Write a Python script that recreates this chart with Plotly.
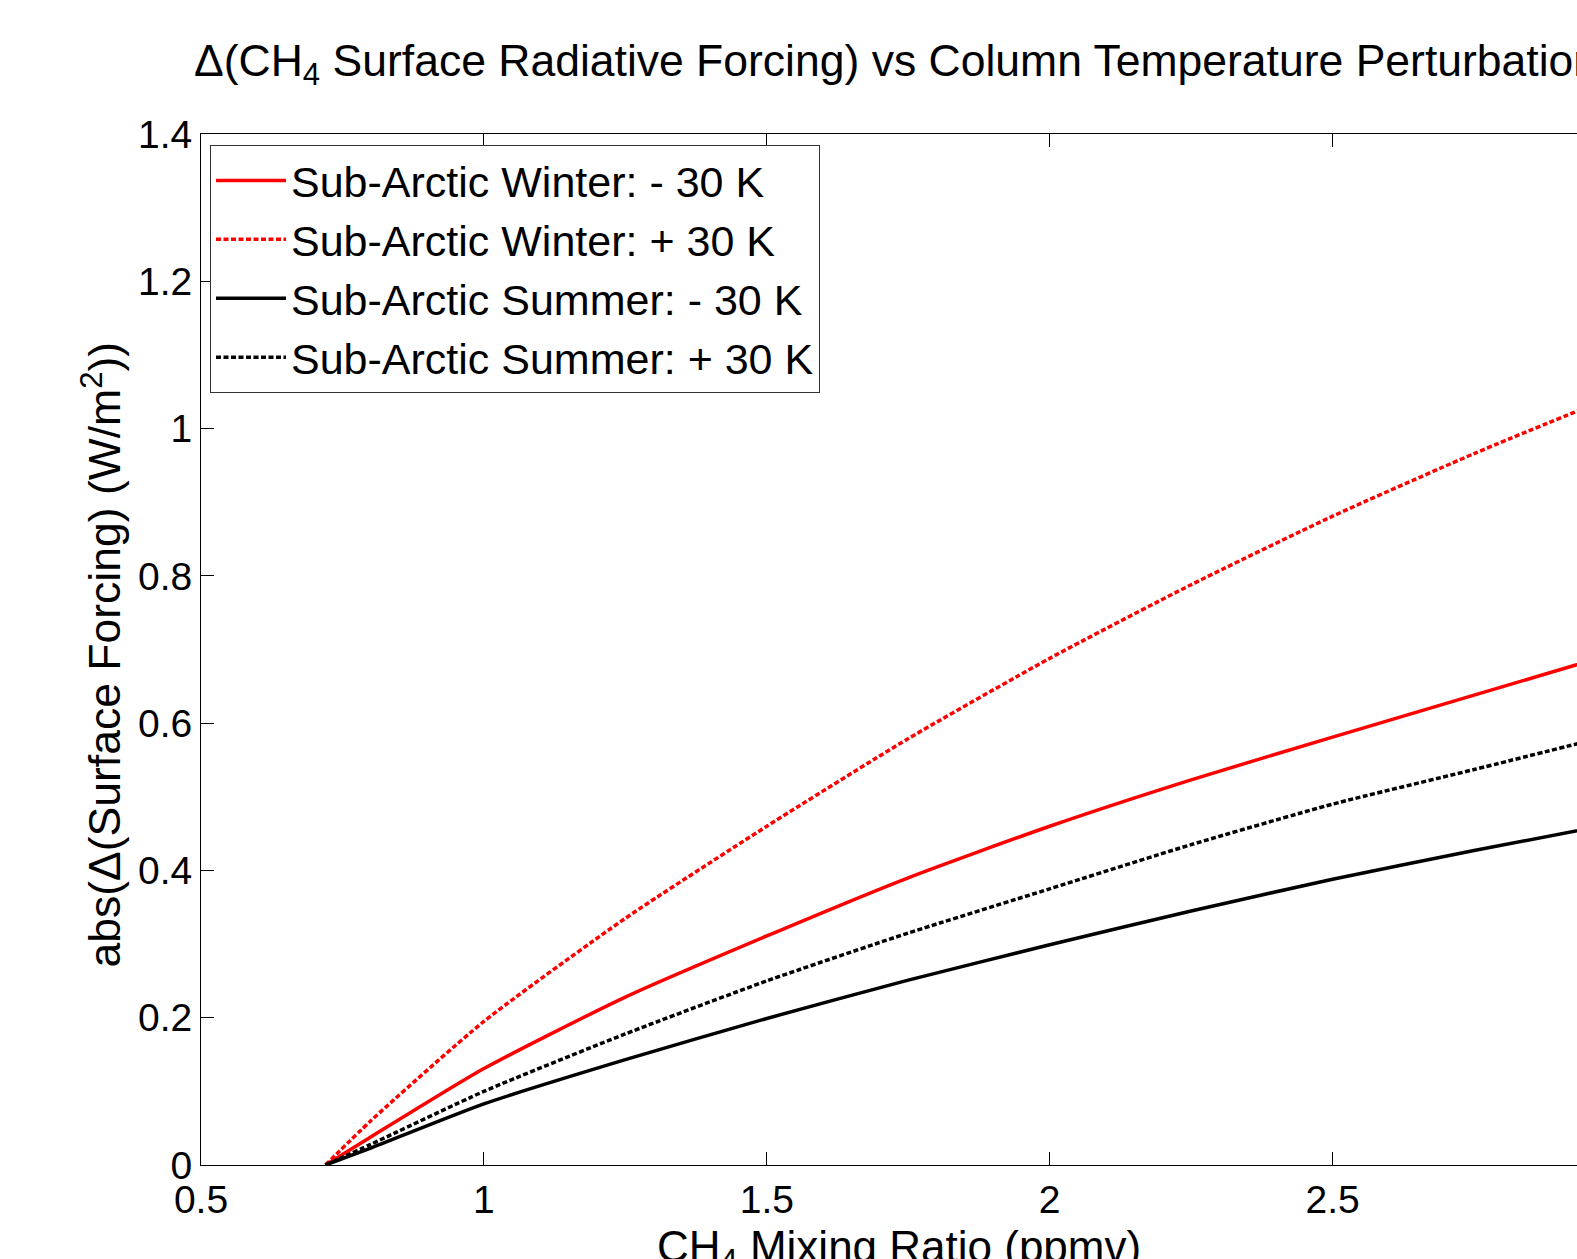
import plotly.graph_objects as go

# CH4 mixing ratio (ppmv)
ch4_ppmv = [0.72, 0.8, 1.0, 1.25, 1.5, 1.75, 2.0, 2.25, 2.5, 2.75, 3.0]

# abs(delta surface forcing) (W/m^2)
winter_minus30 = [0.0, 0.038, 0.131, 0.228, 0.311, 0.390, 0.460, 0.523, 0.581, 0.638, 0.695]
winter_plus30 = [0.0, 0.060, 0.195, 0.335, 0.460, 0.579, 0.688, 0.788, 0.881, 0.966, 1.045]
summer_minus30 = [0.0, 0.023, 0.083, 0.143, 0.199, 0.251, 0.299, 0.345, 0.388, 0.427, 0.464]
summer_plus30 = [0.0, 0.028, 0.100, 0.178, 0.250, 0.315, 0.375, 0.435, 0.490, 0.537, 0.585]

series_names = [
    "Sub-Arctic Winter: - 30 K",
    "Sub-Arctic Winter: + 30 K",
    "Sub-Arctic Summer: - 30 K",
    "Sub-Arctic Summer: + 30 K",
]

x_ticks = [0.5, 1, 1.5, 2, 2.5, 3]
x_ticktext = ["0.5", "1", "1.5", "2", "2.5", "3"]
y_ticks = [0, 0.2, 0.4, 0.6, 0.8, 1.0, 1.2, 1.4]
y_ticktext = ["0", "0.2", "0.4", "0.6", "0.8", "1", "1.2", "1.4"]

FONT = "Liberation Sans, Arial, Helvetica, sans-serif"

fig = go.Figure()
styles = [
    ("#ff0000", "solid"),
    ("#ff0000", "5px,2.5px"),
    ("#000000", "solid"),
    ("#000000", "5px,2.5px"),
]
for name, ys, (col, dash) in zip(series_names,
                                 [winter_minus30, winter_plus30, summer_minus30, summer_plus30],
                                 styles):
    fig.add_trace(go.Scatter(
        x=ch4_ppmv, y=ys, mode="lines", name=name,
        line=dict(color=col, width=3.5, dash=dash, shape="spline", smoothing=0.6),
        cliponaxis=True,
    ))

W, H = 1577, 1259
L, R, T, B = 201, 0, 134, 94
PXU = 565.8  # pixels per x unit

fig.update_layout(
    width=W, height=H,
    margin=dict(l=L, r=R, t=T, b=B, pad=0),
    paper_bgcolor="white", plot_bgcolor="white",
    font=dict(family=FONT, size=40, color="black"),
    showlegend=True,
    legend=dict(
        x=(210 - L) / (W - L - R), y=1 - (145 - T) / (H - T - B),
        xanchor="left", yanchor="top",
        bgcolor="white", bordercolor="#333333", borderwidth=1,
        font=dict(family=FONT, size=43, color="black"),
        itemwidth=70, tracegroupgap=0,
    ),
    xaxis=dict(
        range=[0.5, 0.5 + (W - L - R) / PXU],
        tickvals=x_ticks, ticktext=x_ticktext,
        ticks="inside", ticklen=13, tickwidth=1, tickcolor="black",
        showline=True, linecolor="black", linewidth=1, mirror="ticks",
        showgrid=False, zeroline=False,
        tickfont=dict(family=FONT, size=39, color="black"),
    ),
    yaxis=dict(
        range=[0, 1.4],
        tickvals=y_ticks, ticktext=y_ticktext,
        ticks="inside", ticklen=13, tickwidth=1, tickcolor="black",
        showline=True, linecolor="black", linewidth=1, mirror=False,
        showgrid=False, zeroline=False,
        tickfont=dict(family=FONT, size=39, color="black"),
    ),
)

# Title (anchored left, extends past right edge as in reference)
fig.add_annotation(
    text="Δ(CH<sub>4</sub> Surface Radiative Forcing) vs Column Temperature Perturbation",
    xref="paper", yref="paper", x=0, y=1, xanchor="left", yanchor="bottom",
    xshift=-9, yshift=40, showarrow=False,
    font=dict(family=FONT, size=44.5, color="black"),
)

# X axis title
fig.add_annotation(
    text="CH<sub>4</sub> Mixing Ratio (ppmv)",
    xref="x", yref="paper", x=0.5 + (655 - L) / PXU, y=0,
    xanchor="left", yanchor="top", yshift=-55, showarrow=False,
    font=dict(family=FONT, size=44, color="black"),
)

# Y axis title
fig.add_annotation(
    text="abs(Δ(Surface Forcing) (W/m<sup>2</sup>))",
    xref="paper", yref="paper", x=0, y=0.5, xanchor="center", yanchor="middle",
    xshift=-100, yshift=-5, textangle=-90, showarrow=False,
    font=dict(family=FONT, size=44.5, color="black"),
)

fig.write_html(
    "out.html",
    config={"displayModeBar": False},
    post_script="document.body.style.margin='0';document.body.style.overflow='hidden';",
)
